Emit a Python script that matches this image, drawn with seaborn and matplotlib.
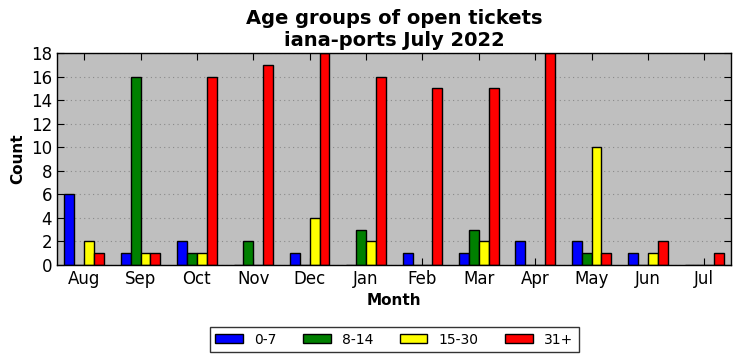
import pandas as pd
import seaborn as sns
import matplotlib.pyplot as plt

months = ['Aug', 'Sep', 'Oct', 'Nov', 'Dec', 'Jan', 'Feb', 'Mar', 'Apr', 'May', 'Jun', 'Jul']
groups = ['0-7', '8-14', '15-30', '31+']
age_0_7 = [6, 1, 2, 0, 1, 0, 1, 1, 2, 2, 1, 0]
age_8_14 = [0, 16, 1, 2, 0, 3, 0, 3, 0, 1, 0, 0]
age_15_30 = [2, 1, 1, 0, 4, 2, 0, 2, 0, 10, 1, 0]
age_31 = [1, 1, 16, 17, 18, 16, 15, 15, 18, 1, 2, 1]
colors = ['blue', 'green', 'yellow', 'red']

def build_frame():
    rows = []
    for g, vals in zip(groups, [age_0_7, age_8_14, age_15_30, age_31]):
        for m, v in zip(months, vals):
            rows.append({'Month': m, 'Group': g, 'Count': v})
    return pd.DataFrame(rows)

df = build_frame()

sns.set_style('ticks', {'text.color': 'black', 'axes.labelcolor': 'black',
                        'xtick.color': 'black', 'ytick.color': 'black'})
plt.rcParams['font.family'] = ['DejaVu Sans']

fig, ax = plt.subplots(figsize=(7.41, 3.61), dpi=100)
sns.barplot(data=df, x='Month', y='Count', hue='Group', order=months, hue_order=groups,
            palette=colors, width=0.7, edgecolor='black', linewidth=1, saturation=1, ax=ax)

ax.set_facecolor('#bfbfbf')
ax.set_xlim(-0.48, 11.48)
ax.set_ylim(0, 18)
ax.set_yticks(range(0, 19, 2))
ax.yaxis.grid(True, linestyle=(0, (1, 3)), color='#8a8a8a', linewidth=0.8)
ax.set_axisbelow(True)
ax.tick_params(direction='in', top=True, right=True, labelsize=12, length=5, colors='black')
for s in ax.spines.values():
    s.set_visible(True)
    s.set_color('black')
    s.set_linewidth(1)

ax.set_title('Age groups of open tickets\niana-ports July 2022', fontsize=14,
             fontweight='bold', color='black', pad=5)
ax.set_xlabel('Month', fontsize=11, fontweight='bold', color='black')
ax.set_ylabel('Count', fontsize=11, fontweight='bold', color='black')

leg = ax.legend(loc='upper center', bbox_to_anchor=(0.5, -0.26), ncol=4, fancybox=False,
                edgecolor='black', fontsize=10, handlelength=2.0, handleheight=0.6,
                columnspacing=1.9, borderpad=0.4)
for t in leg.get_texts():
    t.set_color('black')

plt.subplots_adjust(left=0.077, right=0.987, top=0.853, bottom=0.266)
plt.savefig('out.png', dpi=100)
